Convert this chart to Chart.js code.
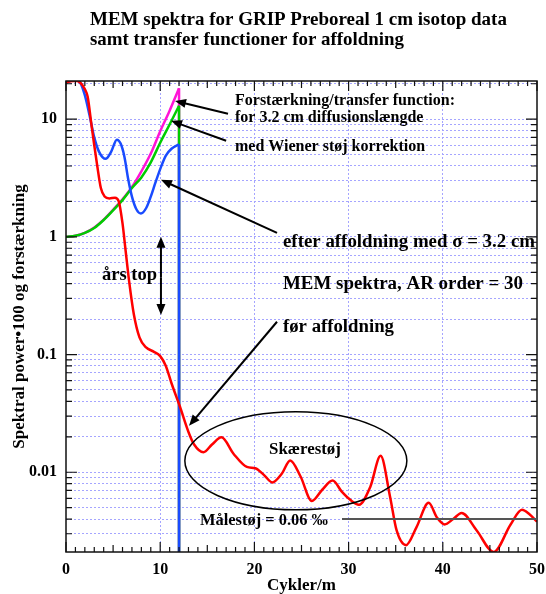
<!DOCTYPE html>
<html>
<head>
<meta charset="utf-8">
<script src="https://cdn.jsdelivr.net/npm/chart.js"></script>
<style>
body { margin: 0; background: #fff; }
#wrap { width: 546px; height: 594px; }
</style>
</head>
<body>
<div id="wrap"><canvas id="mem-chart" width="546" height="594"></canvas></div>
<script>
// MEM spektrum før affoldning (rød)
var foerX = [0, 0.5, 1, 1.5, 2, 2.3, 2.7, 3.0, 3.3, 3.7, 4.1, 4.6, 5.2, 5.6, 6.0, 6.3, 6.7, 7.2, 7.8, 8.5, 9.3, 10.0, 10.6, 11.2, 12.1, 13.0, 13.6, 14.6, 15.5, 16.5, 17.8, 19.2, 20.1, 21.0, 21.9, 22.9, 23.8, 24.9, 26.1, 27.2, 28.3, 29.3, 30.2, 31.1, 32.3, 33.4, 34.4, 35.1, 36.1, 37.2, 38.5, 39.4, 40.2, 41.1, 42.0, 43.6, 45.4, 47.2, 48.4, 49.2, 50];
var foerY = [20.5, 21.0, 21.2, 20.5, 18, 15.5, 9, 6.0, 4.1, 2.6, 2.2, 2.12, 2.15, 2.0, 1.3, 0.8, 0.42, 0.22, 0.14, 0.115, 0.106, 0.097, 0.08, 0.057, 0.036, 0.022, 0.0172, 0.0148, 0.0172, 0.0198, 0.0143, 0.0111, 0.0108, 0.0095, 0.0082, 0.0097, 0.0126, 0.0092, 0.0057, 0.0071, 0.0085, 0.0068, 0.0058, 0.0053, 0.0075, 0.0138, 0.0062, 0.0032, 0.0024, 0.0034, 0.0055, 0.0041, 0.0036, 0.0040, 0.0045, 0.0032, 0.0021, 0.0036, 0.0048, 0.0044, 0.0038];

// efter affoldning (blå)
var efterX = [0, 0.5, 1.0, 1.5, 2.0, 2.5, 3.0, 3.5, 4.2, 4.8, 5.4, 5.8, 6.2, 6.6, 7.0, 7.5, 7.95, 8.5, 9.0, 9.5, 10.1, 10.6, 11.2, 12.0];
var efterY = [20.5, 21.2, 21.5, 20.5, 16, 10.8, 7.0, 5.3, 4.6, 5.3, 6.7, 6.2, 4.8, 3.1, 2.2, 1.7, 1.58, 1.75, 2.2, 2.9, 3.95, 4.9, 5.6, 6.1];

// transfer function (magenta) og med Wiener støj korrektion (grøn)
var transX = [0, 1, 2, 3, 4, 5, 6, 7, 8, 9, 10, 11, 12];
var transY = [1.0, 1.02, 1.08, 1.2, 1.4, 1.7, 2.08, 2.65, 3.6, 5.1, 7.9, 11.8, 18.3];
var wienerY = [1.0, 1.02, 1.08, 1.19, 1.39, 1.68, 2.05, 2.6, 3.2, 4.3, 6.3, 9.0, 13.0];

var cutX = 12;          // afskæring ved 12 cykler/m
var yMin = 0.0021, yMax = 21.1;
var xTickValues = [0, 10, 20, 30, 40, 50];
var yTickValues = [0.01, 0.1, 1, 10];
var yTickLabels = ['0.01', '0.1', '1', '10'];

var serif = "'Liberation Serif', 'Times New Roman', serif";

function par(xs, ys) {
    return xs.map(function(x, i) { return {x: x, y: ys[i]}; });
}
function fald(ys) {
    return [{x: cutX, y: ys[ys.length - 1]}, {x: cutX, y: yMin}];
}

var roed = 'rgb(255,0,0)', blaa = 'rgb(25,75,255)', groen = 'rgb(0,205,0)', magenta = 'rgb(255,20,215)';

function linje(data, farve, glat) {
    return {
        data: data, borderColor: farve, borderWidth: 2.5, pointRadius: 0,
        fill: false, cubicInterpolationMode: glat ? 'monotone' : 'default', tension: 0
    };
}

// pile, ellipse og tekster
var noter = {
    id: 'noter',
    afterDraw: function(chart) {
        var ctx = chart.ctx;
        var xs = chart.scales.x, ys = chart.scales.y, a = chart.chartArea;
        function px(v) { return xs.getPixelForValue(v); }
        function py(v) { return ys.getPixelForValue(v); }

        ctx.save();
        // ramme og indadvendte ticks
        ctx.strokeStyle = '#111';
        ctx.lineWidth = 1.5;
        ctx.strokeRect(a.left, a.top, a.right - a.left, a.bottom - a.top);
        ctx.lineWidth = 1.2;
        ctx.beginPath();
        for (var v = 0; v <= 50; v++) {
            var l = v % 10 === 0 ? 10 : (v % 5 === 0 ? 7 : 5);
            ctx.moveTo(px(v), a.bottom); ctx.lineTo(px(v), a.bottom - l);
            ctx.moveTo(px(v), a.top); ctx.lineTo(px(v), a.top + l);
        }
        [0.001, 0.01, 0.1, 1, 10].forEach(function(d) {
            for (var m = 1; m <= 9; m++) {
                var val = m * d;
                if (val < yMin || val > yMax) continue;
                var l = m === 1 ? 11 : 6;
                var y = py(val);
                ctx.moveTo(a.left, y); ctx.lineTo(a.left + l, y);
                ctx.moveTo(a.right, y); ctx.lineTo(a.right - l, y);
            }
        });
        ctx.stroke();

        // målestøj linje
        ctx.strokeStyle = '#555';
        ctx.lineWidth = 2;
        ctx.beginPath();
        ctx.moveTo(px(29.3), py(0.0040));
        ctx.lineTo(a.right, py(0.0040));
        ctx.stroke();

        // ellipse om skærestøj
        ctx.strokeStyle = '#000';
        ctx.lineWidth = 1.5;
        ctx.beginPath();
        ctx.ellipse(px(24.4), py(0.0125), 111, 49, 0, 0, Math.PI * 2);
        ctx.stroke();

        function pil(x1, y1, x2, y2) {
            var ang = Math.atan2(y2 - y1, x2 - x1), L = 11, W = 4.5;
            ctx.strokeStyle = '#000';
            ctx.fillStyle = '#000';
            ctx.lineWidth = 2;
            ctx.beginPath();
            ctx.moveTo(x1, y1);
            ctx.lineTo(x2 - Math.cos(ang) * L * 0.8, y2 - Math.sin(ang) * L * 0.8);
            ctx.stroke();
            ctx.beginPath();
            ctx.moveTo(x2, y2);
            ctx.lineTo(x2 - Math.cos(ang) * L - Math.sin(ang) * W, y2 - Math.sin(ang) * L + Math.cos(ang) * W);
            ctx.lineTo(x2 - Math.cos(ang) * L + Math.sin(ang) * W, y2 - Math.sin(ang) * L - Math.cos(ang) * W);
            ctx.closePath();
            ctx.fill();
        }
        pil(px(17.2), py(11.1), px(11.57), py(14.3));
        pil(px(17.0), py(6.55), px(11.15), py(9.68));
        pil(px(22.4), py(1.08), px(10.08), py(3.05));
        pil(px(22.4), py(0.19), px(13.06), py(0.0248));
        // års top dobbeltpil
        pil(px(10.08), py(0.45), px(10.08), py(1.0));
        pil(px(10.08), py(0.45), px(10.08), py(0.217));

        // tekster, skaleret til bredden i forlægget
        ctx.fillStyle = '#000';
        ctx.textBaseline = 'alphabetic';
        ctx.textAlign = 'left';
        function tekst(t, x, y, hoejre) {
            ctx.font = 'bold 18px ' + serif;
            var s = 18 * (hoejre - x) / ctx.measureText(t).width;
            ctx.font = 'bold ' + s.toFixed(2) + 'px ' + serif;
            ctx.fillText(t, x, y);
        }
        function tekstFast(t, x, y, str) {
            ctx.font = 'bold ' + str + 'px ' + serif;
            ctx.fillText(t, x, y);
        }
        tekst('MEM spektra for GRIP Preboreal 1 cm isotop data', 90, 25, 507);
        tekst('samt transfer functioner for affoldning', 90, 45, 404);
        tekstFast('Forstærkning/transfer function:', 235, 105, 16);
        tekstFast('for 3.2 cm diffusionslængde', 235, 122, 16);
        tekstFast('med Wiener støj korrektion', 235, 151, 16);
        tekst('efter affoldning med σ = 3.2 cm', 283, 247, 535);
        tekst('MEM spektra, AR order = 30', 283, 289, 523);
        tekst('før affoldning', 283, 332, 394);
        tekst('års top', 102, 280, 157);
        tekst('Skærestøj', 269, 454, 341);
        tekst('Målestøj = 0.06 ‰', 200, 525, 328);
        ctx.restore();
    }
};

var gridFarve = 'rgb(165,165,255)';

var memChart = new Chart(document.getElementById('mem-chart').getContext('2d'), {
    type: 'line',
    data: {
        datasets: [
            linje(par(foerX, foerY), roed, true),
            linje(fald(efterY), blaa, false),
            linje(par(efterX, efterY), blaa, true),
            linje(fald(wienerY), groen, false),
            linje(par(transX, wienerY), groen, true),
            linje(fald(transY), magenta, false),
            linje(par(transX, transY), magenta, true)
        ]
    },
    options: {
        responsive: false,
        animation: false,
        devicePixelRatio: 1,
        layout: { padding: { top: 81, right: 0, bottom: 0, left: 0 } },
        plugins: { legend: { display: false }, tooltip: { enabled: false } },
        scales: {
            x: {
                type: 'linear', min: 0, max: 50,
                afterBuildTicks: function(s) { s.ticks = xTickValues.map(function(v) { return {value: v}; }); },
                afterFit: function(s) { s.height = 42; s.paddingLeft = 0; s.paddingRight = 9; },
                ticks: { color: '#000', padding: 8, maxRotation: 0, autoSkip: false,
                         font: { family: serif, size: 16, weight: 'bold' } },
                grid: { drawTicks: false, lineWidth: 1,
                        color: function(c) { return (c.tick && (c.tick.value === 0 || c.tick.value === 50)) ? 'rgba(0,0,0,0)' : gridFarve; } },
                border: { display: false, dash: [2, 2] },
                title: { display: true, text: 'Cykler/m', color: '#000', padding: 0,
                         font: { family: serif, size: 17, weight: 'bold', lineHeight: 1 } }
            },
            y: {
                type: 'logarithmic', min: yMin, max: yMax,
                afterBuildTicks: function(s) {
                    var t = [];
                    [0.001, 0.01, 0.1, 1, 10].forEach(function(d) {
                        for (var m = 1; m <= 9; m++) {
                            var val = m * d;
                            if (val >= yMin && val <= yMax) t.push({value: val});
                        }
                    });
                    s.ticks = t;
                },
                afterFit: function(s) { s.width = 66; },
                ticks: { color: '#000', padding: 9, autoSkip: false,
                         font: { family: serif, size: 16, weight: 'bold' },
                         callback: function(v) {
                             for (var i = 0; i < yTickValues.length; i++) {
                                 if (Math.abs(v - yTickValues[i]) < yTickValues[i] * 1e-6) return yTickLabels[i];
                             }
                             return '';
                         } },
                grid: { drawTicks: false, lineWidth: 1, color: gridFarve },
                border: { display: false, dash: [2, 2] },
                title: { display: true, text: 'Spektral power•100 og forstærkning', color: '#000',
                         padding: { top: 9, bottom: 0 },
                         font: { family: serif, size: 17, weight: 'bold' } }
            }
        }
    },
    plugins: [noter]
});
</script>
</body>
</html>
